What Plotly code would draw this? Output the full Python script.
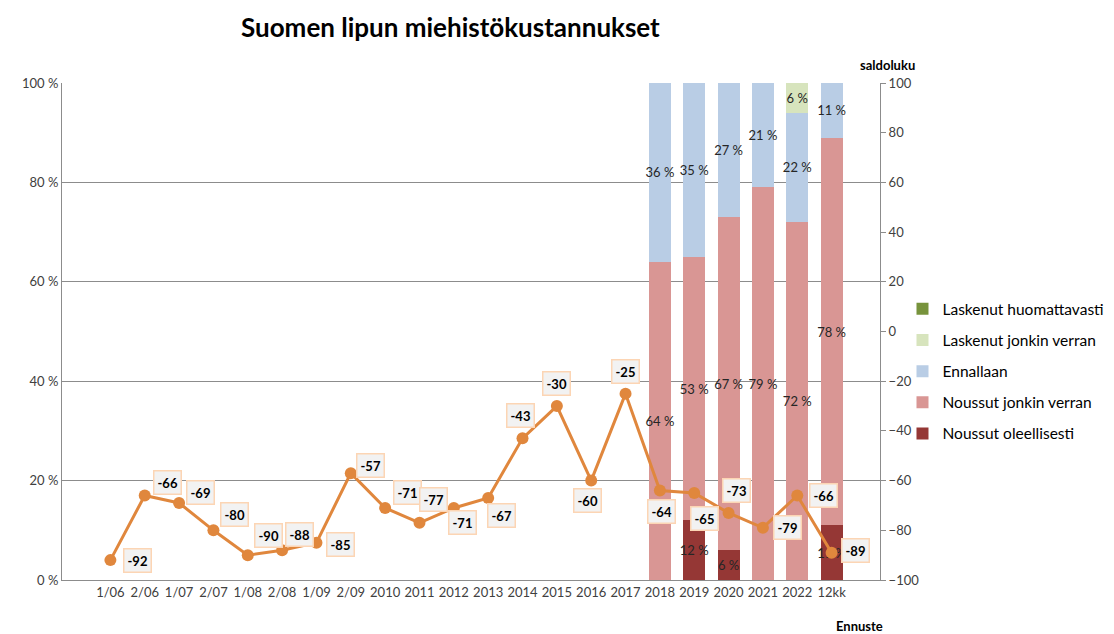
import plotly.graph_objects as go
from plotly.subplots import make_subplots

CATEGORIES = ["1/06", "2/06", "1/07", "2/07", "1/08", "2/08", "1/09", "2/09",
              "2010", "2011", "2012", "2013", "2014", "2015", "2016", "2017",
              "2018", "2019", "2020", "2021", "2022", "12kk"]

# stacked shares (%), None where no survey breakdown exists
NOUSSUT_OLEELLISESTI = [None] * 16 + [0, 12, 6, 0, 0, 11]
NOUSSUT_JONKIN_VERRAN = [None] * 16 + [64, 53, 67, 79, 72, 78]
ENNALLAAN = [None] * 16 + [36, 35, 27, 21, 22, 11]
LASKENUT_JONKIN_VERRAN = [None] * 16 + [0, 0, 0, 0, 6, 0]
LASKENUT_HUOMATTAVASTI = [None] * 16 + [0, 0, 0, 0, 0, 0]

SALDOLUKU = [-92, -66, -69, -80, -90, -88, -85, -57, -71, -77, -71, -67,
             -43, -30, -60, -25, -64, -65, -73, -79, -66, -89]

# label offsets (px) from each line point
LABEL_OFFSETS = [(27, 0), (23, 13), (21, 10), (21, 16), (21, 20), (17, 16),
                 (24, -2), (20, 8), (22, 15), (14, 23), (9, -15), (13, -17),
                 (-2, 23), (0, 23), (-4, -20), (0, 22), (2, -21), (10, -25),
                 (8, 22), (25, 0), (26, 0), (24, 2)]

FONT = "Lato"
TEXT_COLOR = "#404040"
GRID = "#8c8c8c"

series = [
    ("Noussut oleellisesti", NOUSSUT_OLEELLISESTI, "#953735"),
    ("Noussut jonkin verran", NOUSSUT_JONKIN_VERRAN, "#D99694"),
    ("Ennallaan", ENNALLAAN, "#B9CDE5"),
    ("Laskenut jonkin verran", LASKENUT_JONKIN_VERRAN, "#D7E4BD"),
    ("Laskenut huomattavasti", LASKENUT_HUOMATTAVASTI, "#77933C"),
]

fig = make_subplots(specs=[[{"secondary_y": True}]])

for rank, (name, values, color) in enumerate(series):
    fig.add_trace(go.Bar(
        x=CATEGORIES, y=values, name=name, marker_color=color,
        marker_line_width=0, legendgroup=name, legendrank=100 - rank,
        text=[f"{v} %" if v else "" for v in values],
        textposition="inside", insidetextanchor="middle", textangle=0,
        constraintext="none",
        textfont=dict(family=FONT, size=13, color="#262626"),
    ), secondary_y=False)

fig.add_trace(go.Scatter(
    x=CATEGORIES, y=SALDOLUKU, mode="lines+markers", name="saldoluku",
    line=dict(color="#E0873D", width=3), marker=dict(size=12, color="#E0873D"),
    showlegend=False,
), secondary_y=True)

# annotation x as category index (names like "2010" would be read as indices)
for i, (val, (dx, dy)) in enumerate(zip(SALDOLUKU, LABEL_OFFSETS)):
    fig.add_annotation(
        x=i, y=val, xref="x", yref="y2", text=f"<b>{val}</b>",
        showarrow=False, xshift=dx, yshift=dy,
        font=dict(family=FONT, size=13, color="#000000"),
        bgcolor="#F2F2F2", bordercolor="#FCD5B4", borderwidth=1.5, borderpad=3,
    )

fig.add_annotation(x=0.973, y=1.036, xref="paper", yref="paper", text="<b>saldoluku</b>",
                   showarrow=False, xanchor="left", yanchor="middle",
                   font=dict(family=FONT, size=13, color="#000000"))
fig.add_annotation(x=0.975, y=-0.093, xref="paper", yref="paper", text="<b>Ennuste</b>",
                   showarrow=False, xanchor="center", yanchor="middle",
                   font=dict(family=FONT, size=13, color="#000000"))

# page body has an 8px margin, so the figure is drawn 8px smaller
fig.update_layout(
    width=1106, height=626,
    margin=dict(l=54, r=234, t=75, b=54, autoexpand=False),
    paper_bgcolor="white", plot_bgcolor="white",
    barmode="stack", bargap=0.36,
    title=dict(text="<b>Suomen lipun miehistökustannukset</b>", x=0.40, xanchor="center",
               y=0.968, yanchor="middle", font=dict(family=FONT, size=26, color="#000000")),
    font=dict(family=FONT, size=13, color=TEXT_COLOR),
    legend=dict(x=1.0275, y=0.42, xanchor="left", yanchor="middle",
                tracegroupgap=8, itemwidth=30, bgcolor="rgba(0,0,0,0)",
                font=dict(family=FONT, size=15.5, color="#000000")),
    uniformtext=dict(minsize=13, mode="show"),
)

fig.update_xaxes(type="category", domain=[0, 1], showline=True, linecolor=GRID,
                 linewidth=1, ticks="", tickangle=0,
                 tickfont=dict(size=13, color=TEXT_COLOR))
fig.update_yaxes(range=[0, 100], tickvals=[0, 20, 40, 60, 80, 100],
                 ticktext=["0 %", "20 %", "40 %", "60 %", "80 %", "100 %"],
                 showgrid=True, gridcolor=GRID, gridwidth=1,
                 showline=True, linecolor=GRID, zeroline=False, ticks="",
                 tickfont=dict(size=13, color=TEXT_COLOR), secondary_y=False)
fig.update_yaxes(range=[-100, 100], dtick=20, showgrid=False, zeroline=False,
                 showline=True, linecolor=GRID, ticks="outside", ticklen=5,
                 tickcolor=GRID, tickfont=dict(size=13, color=TEXT_COLOR),
                 secondary_y=True)

fig.write_html("out.html")
